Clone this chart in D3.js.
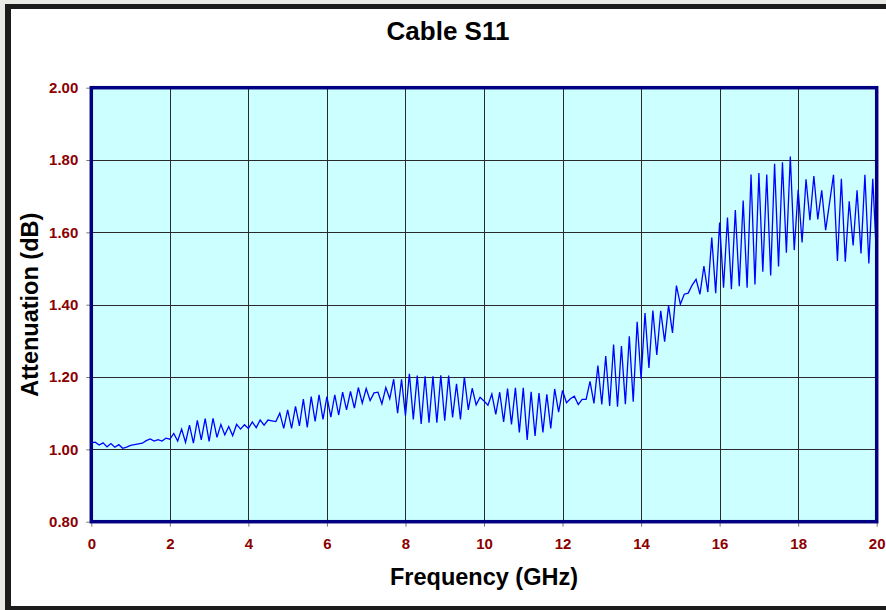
<!DOCTYPE html>
<html>
<head>
<meta charset="utf-8">
<title>Cable S11</title>
<script src="https://d3js.org/d3.v7.min.js"></script>
<style>
  body { margin: 0; background: #e9e9e6; }
  svg { display: block; }
  text { font-family: "Liberation Sans", Arial, sans-serif; font-weight: bold; }
</style>
</head>
<body>
<div id="chart"></div>
<script>

// sweep: 0 to 20 GHz, one sample every 0.1 GHz
const freqStep = 0.1;
const attenuation = [
  1.018, 1.020, 1.012, 1.018, 1.007, 1.016, 1.006, 1.013, 1.003, 1.006,
  1.011, 1.013, 1.015, 1.017, 1.024, 1.029, 1.023, 1.027, 1.023, 1.031,
  1.028, 1.044, 1.023, 1.056, 1.019, 1.067, 1.017, 1.080, 1.026, 1.085,
  1.022, 1.086, 1.033, 1.069, 1.040, 1.063, 1.038, 1.069, 1.056, 1.068,
  1.058, 1.076, 1.060, 1.081, 1.067, 1.081, 1.079, 1.077, 1.100, 1.058,
  1.109, 1.058, 1.119, 1.065, 1.139, 1.061, 1.146, 1.077, 1.151, 1.083,
  1.146, 1.089, 1.151, 1.095, 1.158, 1.109, 1.160, 1.114, 1.171, 1.128,
  1.168, 1.135, 1.156, 1.158, 1.126, 1.171, 1.140, 1.194, 1.100, 1.194,
  1.093, 1.209, 1.083, 1.204, 1.070, 1.202, 1.074, 1.202, 1.074, 1.205,
  1.079, 1.204, 1.088, 1.181, 1.083, 1.200, 1.109, 1.169, 1.123, 1.144,
  1.134, 1.122, 1.153, 1.097, 1.158, 1.076, 1.168, 1.069, 1.170, 1.047,
  1.170, 1.026, 1.159, 1.037, 1.156, 1.047, 1.152, 1.058, 1.167, 1.103,
  1.163, 1.129, 1.140, 1.147, 1.124, 1.138, 1.138, 1.188, 1.127, 1.232,
  1.124, 1.258, 1.120, 1.290, 1.118, 1.286, 1.125, 1.313, 1.132, 1.353,
  1.195, 1.377, 1.225, 1.384, 1.261, 1.383, 1.298, 1.398, 1.322, 1.453,
  1.401, 1.429, 1.432, 1.454, 1.470, 1.429, 1.507, 1.435, 1.586, 1.432,
  1.627, 1.447, 1.641, 1.443, 1.662, 1.451, 1.688, 1.447, 1.760, 1.456,
  1.764, 1.491, 1.760, 1.481, 1.790, 1.506, 1.794, 1.544, 1.810, 1.551,
  1.718, 1.572, 1.747, 1.634, 1.756, 1.636, 1.716, 1.606, 1.682, 1.759,
  1.521, 1.748, 1.519, 1.686, 1.564, 1.716, 1.542, 1.759, 1.514, 1.748,
  1.520
];
const xTicks = [0, 2, 4, 6, 8, 10, 12, 14, 16, 18, 20];
const yTicks = [0.80, 1.00, 1.20, 1.40, 1.60, 1.80, 2.00];

const W = 886, H = 610;
const plot = {left: 91.3, right: 876.7, top: 87.7, bottom: 521.7};

const svg = d3.select("#chart")
  .append("svg")
    .attr("width", W)
    .attr("height", H);

// dark frame round the chart sheet
svg.append("rect")
  .attr("x", 5).attr("y", 4)
  .attr("width", 920).attr("height", 640)
  .attr("fill", "#1c1c1c");
svg.append("rect")
  .attr("x", 11).attr("y", 9)
  .attr("width", 900).attr("height", 597)
  .attr("fill", "#ffffff");

const x = d3.scaleLinear()
  .domain([0, 20])
  .range([plot.left, plot.right]);
const y = d3.scaleLinear()
  .domain([0.8, 2.0])
  .range([plot.bottom, plot.top]);

// plot background
svg.append("rect")
  .attr("x", plot.left).attr("y", plot.top)
  .attr("width", plot.right - plot.left)
  .attr("height", plot.bottom - plot.top)
  .attr("fill", "#ccffff");

// gridlines
svg.append("g")
  .selectAll("line")
  .data(xTicks.slice(1, -1))
  .join("line")
    .attr("x1", d => Math.round(x(d)) + 0.5).attr("x2", d => Math.round(x(d)) + 0.5)
    .attr("y1", plot.top).attr("y2", plot.bottom)
    .attr("stroke", "#2a2a2a").attr("stroke-width", 1);
svg.append("g")
  .selectAll("line")
  .data(yTicks.slice(1, -1))
  .join("line")
    .attr("x1", plot.left).attr("x2", plot.right)
    .attr("y1", d => Math.round(y(d)) + 0.5).attr("y2", d => Math.round(y(d)) + 0.5)
    .attr("stroke", "#2a2a2a").attr("stroke-width", 1);

// axes: only small outside ticks plus dark red labels
const xAxis = svg.append("g")
  .attr("transform", `translate(0,${plot.bottom})`)
  .call(d3.axisBottom(x).tickValues(xTicks).tickSize(5).tickPadding(12).tickFormat(d3.format("d")));
const yAxis = svg.append("g")
  .attr("transform", `translate(${plot.left},0)`)
  .call(d3.axisLeft(y).tickValues(yTicks).tickSize(5).tickPadding(8).tickFormat(d3.format(".2f")));

[xAxis, yAxis].forEach(a => {
  a.select(".domain").remove();
  a.selectAll(".tick line").attr("stroke", "#777");
  a.selectAll(".tick text")
    .attr("fill", "#8b0000")
    .style("font-size", "15px")
    .style("font-family", "'Liberation Sans', Arial, sans-serif")
    .style("font-weight", "bold");
});

// the trace
const line = d3.line()
  .x((d, i) => x(i * freqStep))
  .y(d => y(d));

svg.append("defs").append("clipPath")
  .attr("id", "clip")
  .append("rect")
    .attr("x", plot.left).attr("y", plot.top)
    .attr("width", plot.right - plot.left)
    .attr("height", plot.bottom - plot.top);

svg.append("path")
  .datum(attenuation)
  .attr("clip-path", "url(#clip)")
  .attr("fill", "none")
  .attr("stroke", "#0000ff")
  .attr("stroke-width", 1.3)
  .attr("stroke-linejoin", "miter")
  .attr("d", line);

// plot border
svg.append("rect")
  .attr("x", plot.left).attr("y", plot.top)
  .attr("width", plot.right - plot.left)
  .attr("height", plot.bottom - plot.top)
  .attr("fill", "none")
  .attr("stroke", "#000080")
  .attr("stroke-width", 3.5);

// titles
svg.append("text")
  .attr("x", 448).attr("y", 40)
  .attr("text-anchor", "middle")
  .style("font-size", "26px")
  .text("Cable S11");

svg.append("text")
  .attr("x", (plot.left + plot.right) / 2).attr("y", 585)
  .attr("text-anchor", "middle")
  .style("font-size", "23.5px")
  .text("Frequency (GHz)");

svg.append("text")
  .attr("transform", `translate(38,${(plot.top + plot.bottom) / 2}) rotate(-90)`)
  .attr("text-anchor", "middle")
  .style("font-size", "23.5px")
  .text("Attenuation (dB)");

</script>
</body>
</html>
